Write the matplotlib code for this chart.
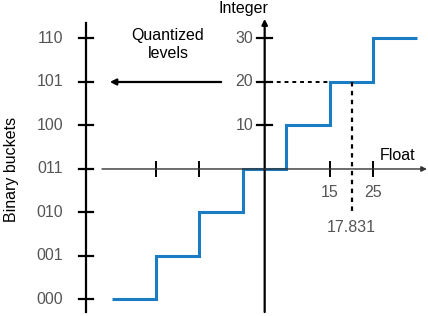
import matplotlib.pyplot as plt

plt.rcParams['font.family'] = ['Liberation Sans', 'DejaVu Sans']

# quantizer: float bucket edges and the integer level of each bucket
float_edges = [-35, -25, -15, -5, 5, 15, 25, 35]
int_levels = [-30, -20, -10, 0, 10, 20, 30]
bucket_labels = ['000', '001', '010', '011', '100', '101', '110']

int_ticks = [10, 20, 30]
float_ticks = [-25, -15, 15, 25]
float_tick_labels = ['', '', '15', '25']

sample_pos = 20
sample_level = 20
sample_label = '17.831'

blue = '#1a7dc4'
gray = '#555555'
fs = 11.5

fig = plt.figure(figsize=(4.28, 3.16), dpi=100)
ax = fig.add_axes([0, 0, 1, 1])
ax.set_xlim(-60.85, 37.55)
ax.set_ylim(-33.8, 38.85)
ax.axis('off')

# left axis: binary buckets
left_x = -41.1
ax.plot([left_x, left_x], [-32.9, 33.6], color='black', lw=1.6)
for lv, lab in zip(int_levels, bucket_labels):
    ax.plot([left_x - 1.7, left_x + 1.7], [lv, lv], color='black', lw=1.6)
    ax.text(left_x - 5.2, lv, lab, ha='right', va='center', fontsize=fs, color=gray)
ax.text(-58.2, 0, 'Binary buckets', rotation=90, ha='center', va='center', fontsize=fs)

# center axis: integer
ax.annotate('', xy=(0, 34.5), xytext=(0, -32.9),
            arrowprops=dict(arrowstyle='-|>', color='black', lw=1.6,
                            mutation_scale=8, shrinkA=0, shrinkB=0))
for t in int_ticks:
    ax.plot([-1.7, 1.7], [t, t], color='black', lw=1.6)
    ax.text(-2.6, t, str(t), ha='right', va='center', fontsize=fs, color=gray)
ax.text(-4.8, 37.0, 'Integer', ha='center', va='center', fontsize=fs)

# horizontal axis: float
ax.annotate('', xy=(37.3, 0), xytext=(-37.4, 0),
            arrowprops=dict(arrowstyle='-|>', color='#333333', lw=1.0,
                            mutation_scale=8, shrinkA=0, shrinkB=0))
for t, lab in zip(float_ticks, float_tick_labels):
    ax.plot([t, t], [-1.5, 1.5], color='black', lw=1.4)
    if lab:
        ax.text(t, -5.5, lab, ha='center', va='center', fontsize=fs, color=gray)
ax.text(30.5, 3.2, 'Float', ha='center', va='center', fontsize=fs)

# dashed guides for the sample value
ax.plot([1.0, 15], [sample_level, sample_level], color='black', lw=1.4, ls=(0, (2, 2)))
ax.plot([sample_pos, sample_pos], [sample_level, -10], color='black', lw=1.6, ls=(0, (2, 2)))
ax.text(sample_pos, -13.5, sample_label, ha='center', va='center', fontsize=fs, color=gray)

# step function
ax.stairs(int_levels, float_edges, baseline=None, color=blue, lw=2.2)

# arrow to quantized levels
ax.annotate('', xy=(-35.6, 20), xytext=(-10.0, 20),
            arrowprops=dict(arrowstyle='-|>', color='black', lw=1.6,
                            mutation_scale=9, shrinkA=0, shrinkB=0))
ax.text(-22.2, 28.6, 'Quantized\nlevels', ha='center', va='center', fontsize=fs,
        linespacing=1.3)

fig.savefig('out.png', dpi=100)
